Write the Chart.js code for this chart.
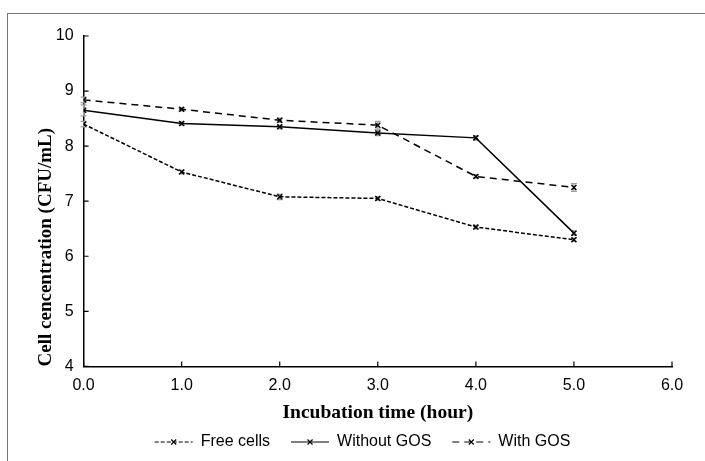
<!DOCTYPE html>
<html>
<head>
<meta charset="utf-8">
<script src="https://cdn.jsdelivr.net/npm/chart.js@4/dist/chart.umd.min.js"></script>
<style>
  html, body { margin: 0; padding: 0; background: #fff; }
  #wrap { position: relative; width: 705px; height: 461px; }
  #frame { position: absolute; left: 7px; top: 13px; right: 0; bottom: 0;
           border-left: 1px solid #777; border-top: 1px solid #777; }
  canvas { position: absolute; left: 0; top: 0; }
</style>
</head>
<body>
<div id="wrap">
  <div id="frame"></div>
  <canvas id="chart" width="705" height="461"></canvas>
</div>
<script>
// ── Data ─────────────────────────────────────────────────
const hours      = [0, 1, 2, 3, 4, 5];
const freeCells  = [8.40, 7.53, 7.08, 7.05, 6.53, 6.30];
const withoutGOS = [8.65, 8.41, 8.35, 8.24, 8.15, 6.42];
const withGOS    = [8.84, 8.67, 8.47, 8.38, 7.45, 7.25];
const freeErr    = [0.05, 0.03, 0.05, 0.03, 0.03, 0.03];
const withoutErr = [0.10, 0.03, 0.03, 0.05, 0.04, 0.04];
const withErr    = [0.05, 0.03, 0.04, 0.07, 0.03, 0.07];
const xTicks     = [0, 1, 2, 3, 4, 5, 6];
const yTicks     = [4, 5, 6, 7, 8, 9, 10];

const toPts = vals => vals.map((v, i) => ({ x: hours[i], y: v }));

// ── Error bars, drawn through the scales ─────────────────
const errorBars = {
  id: 'errorBars',
  beforeDatasetsDraw(chart) {
    const { ctx, scales: { x, y } } = chart;
    ctx.save();
    ctx.strokeStyle = '#a0a0a0';
    ctx.lineWidth = 1.3;
    chart.data.datasets.forEach(ds => {
      ds.data.forEach((p, i) => {
        const px = x.getPixelForValue(p.x);
        const top = y.getPixelForValue(p.y + ds.err[i]);
        const bot = y.getPixelForValue(p.y - ds.err[i]);
        ctx.beginPath();
        ctx.moveTo(px, top); ctx.lineTo(px, bot);
        ctx.moveTo(px - 3, top); ctx.lineTo(px + 3, top);
        ctx.moveTo(px - 3, bot); ctx.lineTo(px + 3, bot);
        ctx.stroke();
      });
    });
    ctx.restore();
  }
};

// ── Inner tick marks + legend line samples ───────────────
const innerTicks = {
  id: 'innerTicks',
  afterLayout(chart) {
    // nudge legend to sit where the original one does
    chart.legend.left += 15;
    chart.legend.right += 15;
  },
  afterDraw(chart) {
    const { ctx, scales: { x, y } } = chart;
    ctx.save();
    ctx.strokeStyle = '#000';
    ctx.lineWidth = 1.2;
    ctx.beginPath();
    y.ticks.forEach((t, i) => {
      const py = y.getPixelForTick(i);
      ctx.moveTo(x.left, py); ctx.lineTo(x.left + 5, py);
    });
    x.ticks.forEach((t, i) => {
      const px = x.getPixelForTick(i);
      ctx.moveTo(px, y.bottom); ctx.lineTo(px, y.bottom - 5);
    });
    ctx.stroke();

    const lg = chart.legend;
    const bw = lg.options.labels.boxWidth;
    lg.legendHitBoxes.forEach((hb, i) => {
      const ds = chart.data.datasets[i];
      const cx = hb.left + bw / 2;
      const cy = hb.top + hb.height / 2;
      ctx.lineWidth = 1.2;
      ctx.setLineDash(ds.borderDash);
      ctx.beginPath();
      ctx.moveTo(hb.left, cy); ctx.lineTo(hb.left + bw, cy);
      ctx.stroke();
      ctx.setLineDash([]);
      ctx.beginPath();
      ctx.moveTo(cx - 2.5, cy - 2.5); ctx.lineTo(cx + 2.5, cy + 2.5);
      ctx.moveTo(cx - 2.5, cy + 2.5); ctx.lineTo(cx + 2.5, cy - 2.5);
      ctx.stroke();
    });
    ctx.restore();
  }
};

const common = {
  borderColor: '#000',
  backgroundColor: '#000',
  borderWidth: 1.5,
  pointStyle: 'crossRot',
  pointRadius: 3.5,
  pointBorderWidth: 1.5,
  pointBorderColor: '#000',
  fill: false,
  tension: 0
};

new Chart(document.getElementById('chart').getContext('2d'), {
  type: 'line',
  data: {
    datasets: [
      { ...common, label: 'Free cells',  data: toPts(freeCells),  err: freeErr,    borderDash: [4, 2] },
      { ...common, label: 'Without GOS', data: toPts(withoutGOS), err: withoutErr, borderDash: [] },
      { ...common, label: 'With GOS',    data: toPts(withGOS),    err: withErr,    borderDash: [7, 5] }
    ]
  },
  options: {
    responsive: false,
    animation: false,
    layout: { padding: { left: 23, right: 33, top: 36, bottom: 1 } },
    plugins: {
      tooltip: { enabled: false },
      legend: {
        position: 'bottom',
        labels: {
          color: '#000',
          font: { family: 'Liberation Sans, Arial', size: 16 },
          boxWidth: 38,
          boxHeight: 0,
          padding: 21,
          generateLabels(chart) {
            return chart.data.datasets.map((ds, i) => ({
              text: ds.label,
              fillStyle: 'rgba(0,0,0,0)',
              strokeStyle: 'rgba(0,0,0,0)',
              lineWidth: 0,
              datasetIndex: i
            }));
          }
        }
      }
    },
    scales: {
      x: {
        type: 'linear',
        min: 0, max: 6,
        afterBuildTicks: s => { s.ticks = xTicks.map(v => ({ value: v })); },
        grid: { display: false, drawTicks: false },
        border: { color: '#000', width: 1.5 },
        ticks: {
          color: '#000', padding: 10,
          font: { family: 'Liberation Sans, Arial', size: 16 },
          callback: v => v.toFixed(1)
        },
        title: {
          display: true, text: 'Incubation time (hour)', color: '#000',
          font: { family: 'Liberation Serif, Times New Roman', size: 19.5, weight: 'bold' },
          padding: { top: -4, bottom: -12 }
        }
      },
      y: {
        min: 4, max: 10,
        afterBuildTicks: s => { s.ticks = yTicks.map(v => ({ value: v })); },
        grid: { display: false, drawTicks: false },
        border: { color: '#000', width: 1.5 },
        ticks: {
          color: '#000', padding: 10,
          font: { family: 'Liberation Sans, Arial', size: 16 }
        },
        title: {
          display: true, text: 'Cell cencentration (CFU/mL)', color: '#000',
          align: 'start',
          font: { family: 'Liberation Serif, Times New Roman', size: 19, weight: 'bold' },
          padding: { top: 12, bottom: -12 }
        }
      }
    }
  },
  plugins: [errorBars, innerTicks]
});
</script>
</body>
</html>
